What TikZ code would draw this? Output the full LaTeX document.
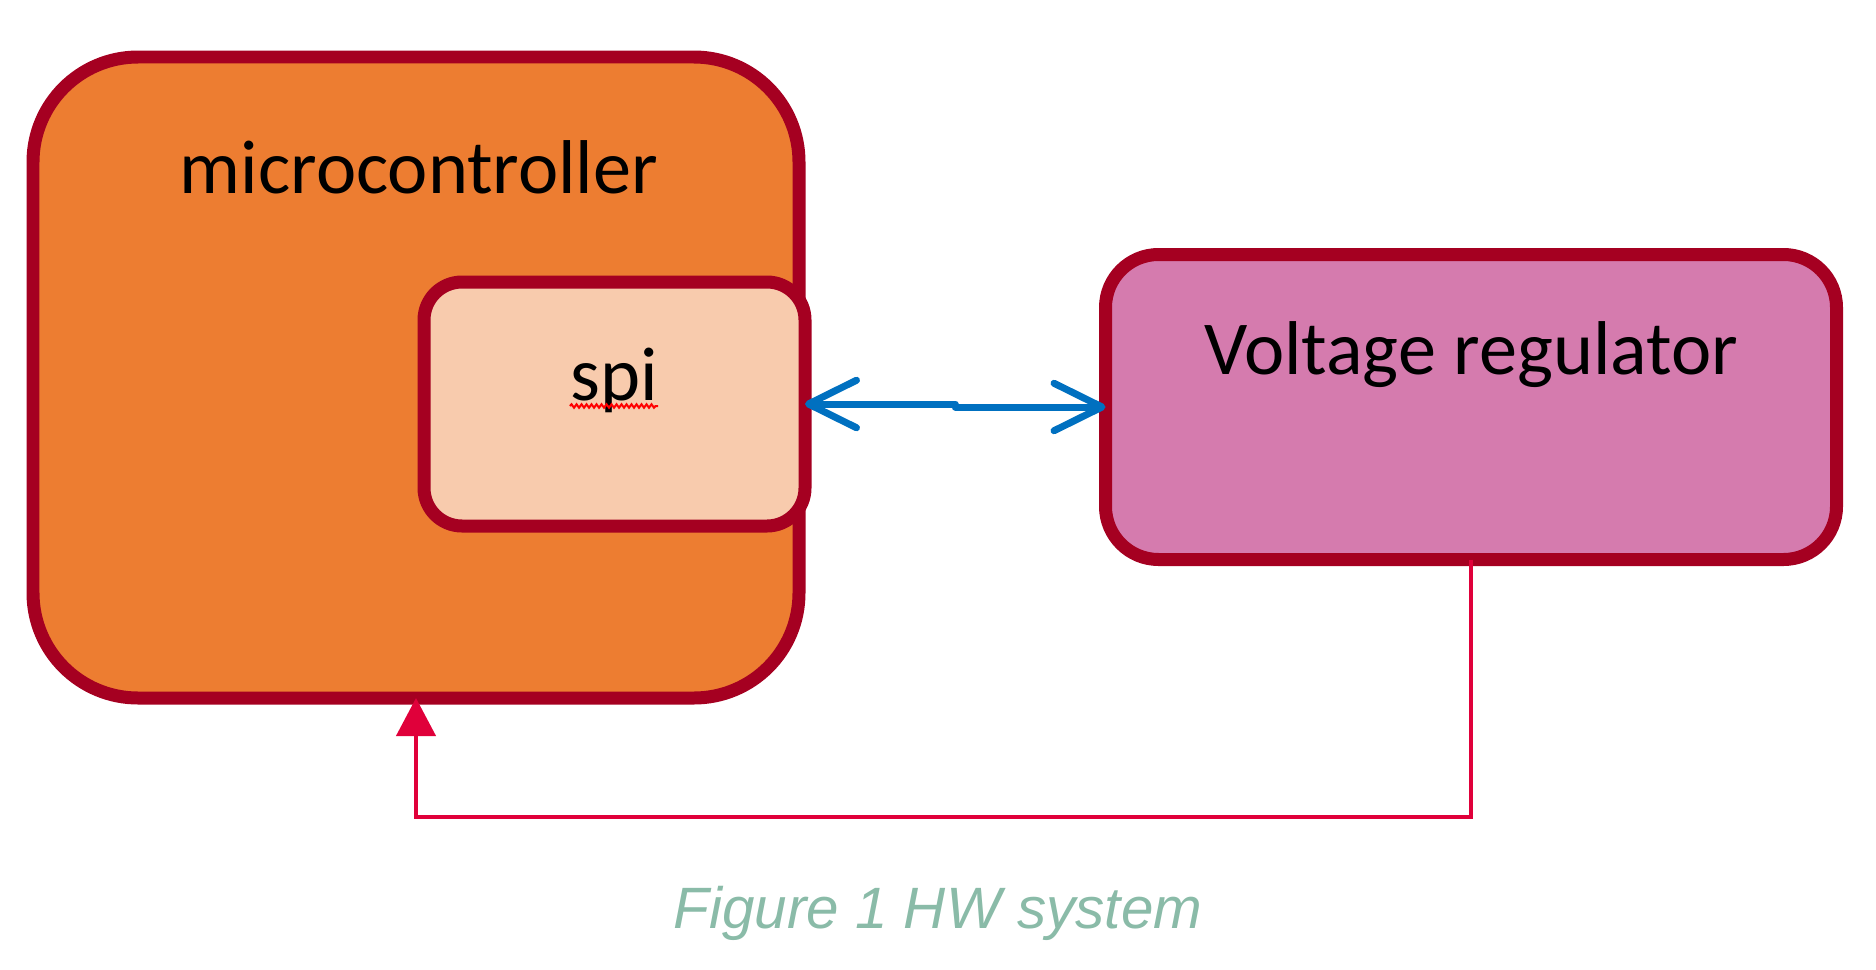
\documentclass[tikz,border=0pt]{standalone}
\usepackage{fontspec}
\setmainfont{Carlito}
\newfontfamily\captionfont{Liberation Sans}
\usetikzlibrary{arrows.meta,decorations.pathmorphing}
\definecolor{blockborder}{HTML}{A50021}
\definecolor{mcufill}{HTML}{ED7D31}
\definecolor{spifill}{HTML}{F8CBAD}
\definecolor{vrfill}{HTML}{D57BAE}
\definecolor{busblue}{HTML}{0070C0}
\definecolor{fbred}{HTML}{E0003A}
\definecolor{captgreen}{HTML}{8ABBA8}
\newdimen\upx \upx=0.02cm
\tikzset{
  blockbox/.style={draw=blockborder, line width=0.26cm, rectangle, inner sep=0pt, outer sep=0pt},
  blocktext/.style={font=\fontsize{43.4}{50}\selectfont, inner sep=0pt, anchor=base},
  busline/.style={busblue, line width=0.14cm, line cap=round, line join=round,
    {Straight Barb[length=0.96cm,width=0.95cm,round]}-{Straight Barb[length=0.96cm,width=0.95cm,round]}},
  fbline/.style={fbred, line width=0.085cm, -{Triangle[length=0.76cm,width=0.78cm]}},
  spellmark/.style={red, line width=0.04cm, decorate, decoration={snake, segment length=0.1cm, amplitude=0.035cm}}
}

\begin{document}
\begin{tikzpicture}[x=0.02cm,y=-0.02cm]
\useasboundingbox (0,0) rectangle (1876,970);
%\draw[help lines,step=100] (0,0) grid (1876,970);
\node[blockbox, fill=mcufill, minimum width=766\upx, minimum height=641\upx, rounded corners=105\upx] (mcu) at (416,377.5) {};
\node[blocktext] (mcutext) at (419,193) {microcontroller};
\node[blockbox, fill=spifill, minimum width=381\upx, minimum height=244\upx, rounded corners=38\upx] (spi) at (614.5,404) {};
\node[blocktext] (spitext) at (614,400) {spi};
\draw[spellmark] ([yshift=-0.12cm]spitext.base west) -- ([yshift=-0.12cm]spitext.base east);
\node[blockbox, fill=vrfill, minimum width=731\upx, minimum height=305\upx, rounded corners=53\upx] (vr) at (1471,407) {};
\node[blocktext] (vrtext) at (1471,374) {Voltage regulator};

% spi bus
\draw[busline] (spi.east) -- ++(150,0) |- (vr.west);
% feedback
\coordinate (fbbase) at (0,817);
\draw[fbline] (vr.south) -- (vr.south |- fbbase) -| (mcu.south);

\node[font=\captionfont\itshape\fontsize{33.2}{40}\selectfont, text=captgreen, inner sep=0pt, anchor=base] (caption) at (938,928) {Figure 1 HW system};
\end{tikzpicture}
\end{document}
